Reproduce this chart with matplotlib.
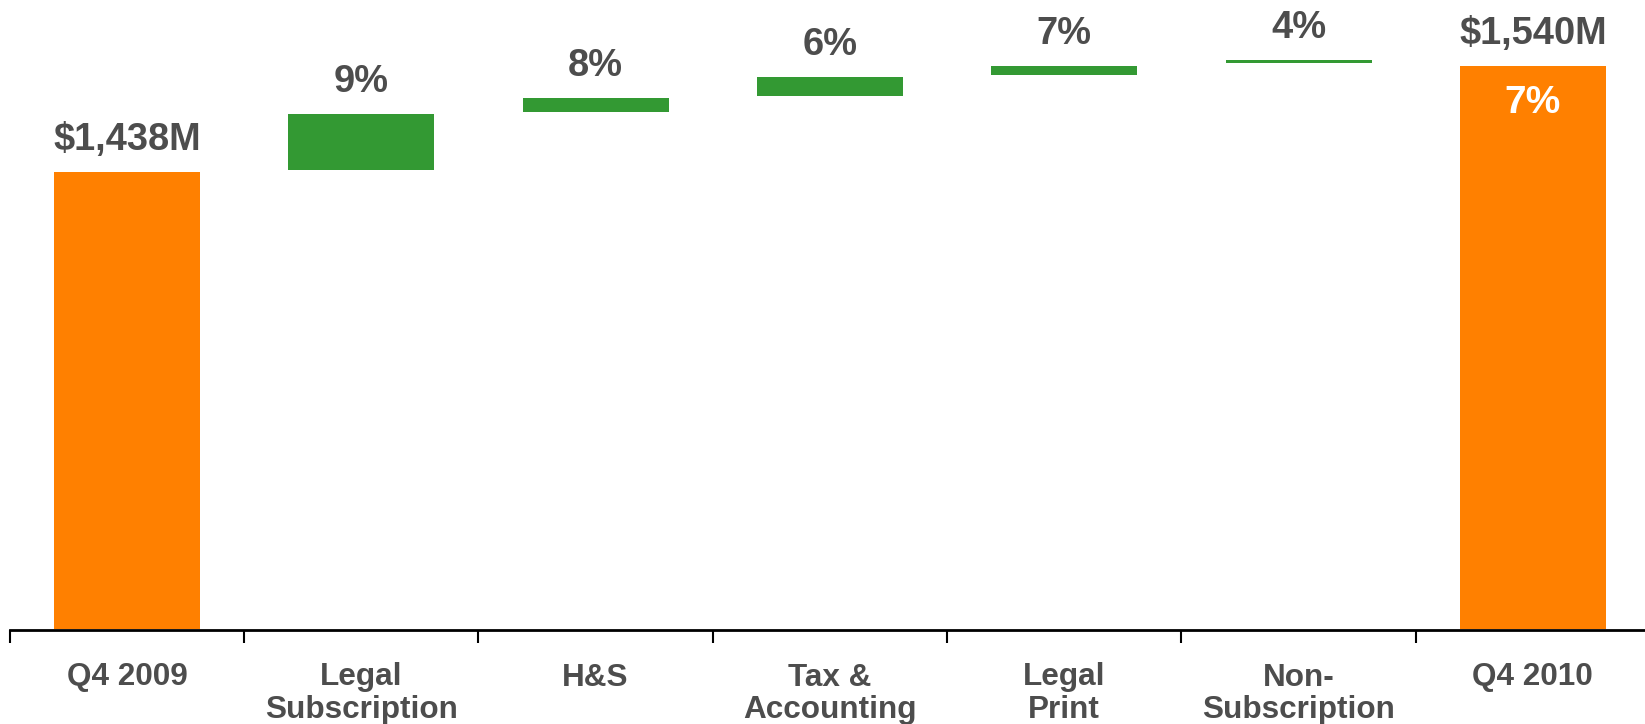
import matplotlib
matplotlib.use("Agg")
import matplotlib.pyplot as plt
import matplotlib.transforms as mtransforms

plt.rcParams['font.family'] = ['Liberation Sans', 'DejaVu Sans']

# chart data ($M)
categories = ['Q4 2009', 'Legal\nSubscription', 'H&S', 'Tax &\nAccounting',
              'Legal\nPrint', 'Non-\nSubscription', 'Q4 2010']
start_total = 1438
end_total = 1540
step_low = [1440, 1495.4, 1511.3, 1531.4, 1542.3]
step_high = [1493.5, 1509.4, 1529.2, 1540.0, 1545.5]
step_labels = ['9%', '8%', '6%', '7%', '4%']
total_labels = ['$1,438M', '$1,540M']
growth_label = '7%'

ORANGE = '#FF8000'
GREEN = '#339933'
GREY = '#4D4D4D'

fig = plt.figure(figsize=(16.45, 7.24), dpi=100)
ax = fig.add_axes([9.8 / 1645, 1 - 629.5 / 724, 1640.2 / 1645, 629.5 / 724])

width = 0.623
ybase = 1000.5

# totals
ax.bar([0, 6], [start_total - ybase, end_total - ybase], bottom=ybase,
       width=width, color=ORANGE, zorder=2)
# steps
xs = list(range(1, 6))
heights = [h - l for l, h in zip(step_low, step_high)]
ax.bar(xs, heights, bottom=step_low, width=width, color=GREEN, zorder=2)

off_up = mtransforms.offset_copy(ax.transData, fig=fig, x=0, y=22 * 0.72, units='points')
lab_size = 27.4
ax.text(0, start_total, total_labels[0], transform=off_up, ha='center', va='baseline',
        fontsize=lab_size, fontweight='bold', color=GREY)
ax.text(6, end_total, total_labels[1], transform=off_up, ha='center', va='baseline',
        fontsize=lab_size, fontweight='bold', color=GREY)
for x, top, lab in zip(xs, step_high, step_labels):
    ax.text(x, top, lab, transform=off_up, ha='center', va='baseline',
            fontsize=lab_size, fontweight='bold', color=GREY)

off_in = mtransforms.offset_copy(ax.transData, fig=fig, x=0, y=-47 * 0.72, units='points')
ax.text(6, end_total, growth_label, transform=off_in, ha='center', va='baseline',
        fontsize=28, fontweight='bold', color='white')

ax.set_xlim(-0.5, 6.5)
ax.set_ylim(ybase, ybase + 629.5 / 1.045)

for s in ['top', 'right', 'left']:
    ax.spines[s].set_visible(False)
ax.spines['bottom'].set_linewidth(2)
ax.spines['bottom'].set_zorder(3)
ax.set_yticks([])

# tick marks between categories, labels under the bars
ax.set_xticks([i - 0.5 for i in range(8)])
ax.set_xticklabels([])
ax.tick_params(axis='x', which='major', length=9, width=1.5,
               direction='out', color='black')
ax.set_xticks(range(7), minor=True)
ax.set_xticklabels(categories, minor=True, fontsize=22.7, fontweight='bold',
                   color=GREY, linespacing=1.12)
ax.tick_params(axis='x', which='minor', length=0, pad=33 * 0.72)

fig.savefig('out.png', dpi=100)
